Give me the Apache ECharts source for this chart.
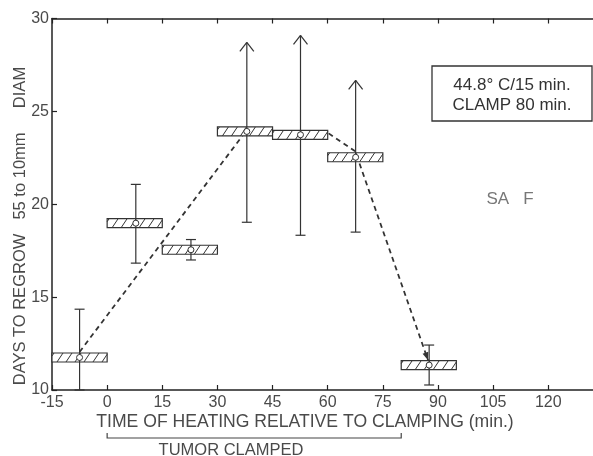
<!DOCTYPE html>
<html><head><meta charset="utf-8">
<script src="https://cdn.jsdelivr.net/npm/echarts@6/dist/echarts.min.js"></script>
<style>html,body{margin:0;padding:0;background:#fff}#c{width:593px;height:456px}</style>
</head><body><div id="c"></div>
<script>
// ---- data ----
const boxStart = [-15, 0, 15, 30, 45, 60, 80];          // heating interval start (min)
const boxEnd   = [0, 15, 30, 45, 60, 75, 95];           // heating interval end (min)
const meanDays = [11.75, 18.98, 17.55, 23.92, 23.74, 22.53, 11.34];
const barX     = [-7.5, 7.8, 22.8, 38, 52.6, 67.6, 87.6];
const errLow   = [10, 16.83, 17.0, 19.03, 18.33, 18.5, 10.27];
const errHigh  = [14.35, 21.07, 18.1, 28.71, 29.09, 26.67, 12.42];
const openTop  = [false, false, false, true, true, true, false];
const trendX   = [-7.5, 38, 60, 67.5, 87.3];
const trendY   = [12.05, 24.0, 23.85, 22.85, 11.6];
const clampRange = [0, 80];
const xTickLabels = [-15, 0, 15, 30, 45, 60, 75, 90, 105, 120];
const yTickLabels = [10, 15, 20, 25, 30];

const FONT = 'Liberation Sans';
const TXT = '#4a4a4a';
const AX = '#222';

const chart = echarts.init(document.getElementById('c'), null, {renderer: 'canvas'});

function hatch(x0, y0, x1, y1, sp, run) {
  const h = y1 - y0, out = [];
  for (let xb = x0 - run + 2; xb < x1; xb += sp) {
    let t0 = 0, t1 = 1;
    if (xb < x0) t0 = (x0 - xb) / run;
    if (xb + run > x1) t1 = (x1 - xb) / run;
    if (t1 <= t0) continue;
    out.push({type: 'line', shape: {x1: xb + t0 * run, y1: y1 - t0 * h, x2: xb + t1 * run, y2: y1 - t1 * h},
      style: {stroke: '#333', lineWidth: 1}});
  }
  return out;
}

const xAxisCommon = {
  type: 'value', min: -15, max: 135, interval: 15,
  axisLine: {show: true, onZero: false, lineStyle: {color: AX, width: 1.5}},
  axisTick: {show: true, inside: true, length: 5, lineStyle: {color: AX, width: 1.2}},
  splitLine: {show: false}
};

const option = {
  animation: false,
  backgroundColor: '#fff',
  grid: {left: 52, top: 18.5, right: -10.4, bottom: 66, containLabel: false, outerBoundsMode: 'none'},
  xAxis: [
    Object.assign({}, xAxisCommon, {
      position: 'bottom',
      axisLabel: {color: TXT, fontSize: 16, fontFamily: FONT, margin: 5,
        formatter: v => xTickLabels.indexOf(v) >= 0 ? String(v) : ''}
    }),
    Object.assign({}, xAxisCommon, {position: 'top', axisLabel: {show: false}})
  ],
  yAxis: {
    type: 'value', min: 10, max: 30, interval: 5, position: 'left',
    axisLine: {show: true, onZero: false, lineStyle: {color: AX, width: 1.5}},
    axisTick: {show: true, inside: true, length: 5, lineStyle: {color: AX, width: 1.2}},
    axisLabel: {color: TXT, fontSize: 16, fontFamily: FONT, margin: 3,
      formatter: v => yTickLabels.indexOf(v) >= 0 ? String(v) : ''},
    splitLine: {show: false}
  },
  series: [
    { // dashed trend line
      type: 'line', z: 1, silent: true, symbol: 'none',
      data: trendX.map((x, i) => [x, trendY[i]]),
      lineStyle: {type: [5, 4], width: 1.8, color: '#333'}
    },
    { // arrowhead on trend end
      type: 'custom', z: 1, silent: true,
      data: [[trendX[trendX.length - 1], trendY[trendY.length - 1]]],
      renderItem: (params, api) => {
        const n = trendX.length;
        const p1 = api.coord([trendX[n - 1], trendY[n - 1]]);
        const p0 = api.coord([trendX[n - 2], trendY[n - 2]]);
        const dx = p1[0] - p0[0], dy = p1[1] - p0[1], L = Math.hypot(dx, dy);
        const ux = dx / L, uy = dy / L, nx = -uy, ny = ux;
        const len = 8, w = 3;
        return {type: 'polygon', shape: {points: [
          [p1[0], p1[1]],
          [p1[0] - ux * len + nx * w, p1[1] - uy * len + ny * w],
          [p1[0] - ux * len - nx * w, p1[1] - uy * len - ny * w]
        ]}, style: {fill: '#333'}};
      }
    },
    { // hatched heating boxes
      type: 'custom', z: 2, silent: true,
      data: boxStart.map((s, i) => [s, boxEnd[i], meanDays[i]]),
      encode: {x: [0, 1], y: 2},
      renderItem: (params, api) => {
        const a = api.coord([api.value(0), api.value(2)]);
        const b = api.coord([api.value(1), api.value(2)]);
        const h = 9;
        const x0 = a[0], x1 = b[0], y0 = a[1] - h / 2, y1 = a[1] + h / 2;
        return {type: 'group', children: [
          {type: 'rect', shape: {x: x0, y: y0, width: x1 - x0, height: h}, style: {fill: '#fff', stroke: 'none'}}
        ].concat(hatch(x0, y0, x1, y1, 9, 6)).concat([
          {type: 'rect', shape: {x: x0, y: y0, width: x1 - x0, height: h}, style: {fill: 'none', stroke: '#333', lineWidth: 1.2}}
        ])};
      }
    },
    { // error bars
      type: 'custom', z: 3, silent: true,
      data: barX.map((x, i) => [x, errLow[i], errHigh[i], openTop[i] ? 1 : 0]),
      encode: {x: 0, y: [1, 2]},
      renderItem: (params, api) => {
        const lo = api.coord([api.value(0), api.value(1)]);
        const hi = api.coord([api.value(0), api.value(2)]);
        const st = {stroke: '#333', lineWidth: 1.2, fill: 'none'};
        const ch = [
          {type: 'line', shape: {x1: lo[0], y1: lo[1], x2: hi[0], y2: hi[1]}, style: st},
          {type: 'line', shape: {x1: lo[0] - 5, y1: lo[1], x2: lo[0] + 5, y2: lo[1]}, style: st}
        ];
        if (api.value(3)) {
          ch.push({type: 'line', shape: {x1: hi[0] - 7, y1: hi[1] + 9, x2: hi[0], y2: hi[1]}, style: st});
          ch.push({type: 'line', shape: {x1: hi[0] + 7, y1: hi[1] + 9, x2: hi[0], y2: hi[1]}, style: st});
        } else {
          ch.push({type: 'line', shape: {x1: hi[0] - 5, y1: hi[1], x2: hi[0] + 5, y2: hi[1]}, style: st});
        }
        return {type: 'group', children: ch};
      }
    },
    { // centre markers
      type: 'custom', z: 4, silent: true,
      data: barX.map((x, i) => [x, meanDays[i]]),
      renderItem: (params, api) => {
        const p = api.coord([api.value(0), api.value(1)]);
        return {type: 'circle', shape: {cx: p[0], cy: p[1], r: 3}, style: {fill: '#fff', stroke: '#333', lineWidth: 1}};
      }
    },
    { // tumor clamped bracket
      type: 'custom', z: 4, silent: true, clip: false, xAxisIndex: 0,
      data: [clampRange],
      encode: {x: [0, 1]},
      renderItem: (params, api) => {
        const a = api.coord([api.value(0), 10]);
        const b = api.coord([api.value(1), 10]);
        const y = a[1] + 48;
        return {type: 'polyline', shape: {points: [[a[0], y - 5], [a[0], y], [b[0], y], [b[0], y - 5]]},
          style: {stroke: '#444', lineWidth: 1.2, fill: 'none'}};
      }
    }
  ],
  graphic: [
    {type: 'text', x: 20, y: 309.5, rotation: Math.PI / 2,
      style: {text: 'DAYS TO REGROW', fontSize: 16.5, fontFamily: FONT, fill: TXT, align: 'center', verticalAlign: 'middle'}},
    {type: 'text', x: 20, y: 176, rotation: Math.PI / 2,
      style: {text: '55 to 10mm', fontSize: 16.5, fontFamily: FONT, fill: TXT, align: 'center', verticalAlign: 'middle'}},
    {type: 'text', x: 20, y: 87.5, rotation: Math.PI / 2,
      style: {text: 'DIAM', fontSize: 16.5, fontFamily: FONT, fill: TXT, align: 'center', verticalAlign: 'middle'}},
    {type: 'text', x: 305, y: 422,
      style: {text: 'TIME OF HEATING RELATIVE TO CLAMPING (min.)', fontSize: 17.6, fontFamily: FONT, fill: TXT, align: 'center', verticalAlign: 'middle'}},
    {type: 'text', x: 231, y: 450,
      style: {text: 'TUMOR CLAMPED', fontSize: 16.5, fontFamily: FONT, fill: TXT, align: 'center', verticalAlign: 'middle'}},
    {type: 'rect', shape: {x: 432, y: 66, width: 160, height: 55}, style: {fill: '#fff', stroke: '#333', lineWidth: 1.3}},
    {type: 'text', x: 512, y: 85,
      style: {text: '44.8° C/15 min.', fontSize: 17, fontFamily: FONT, fill: '#333', align: 'center', verticalAlign: 'middle'}},
    {type: 'text', x: 512, y: 105,
      style: {text: 'CLAMP 80 min.', fontSize: 17, fontFamily: FONT, fill: '#333', align: 'center', verticalAlign: 'middle'}},
    {type: 'text', x: 510, y: 199,
      style: {text: 'SA   F', fontSize: 17, fontFamily: FONT, fill: '#777', align: 'center', verticalAlign: 'middle'}}
  ]
};
chart.setOption(option);
</script></body></html>
